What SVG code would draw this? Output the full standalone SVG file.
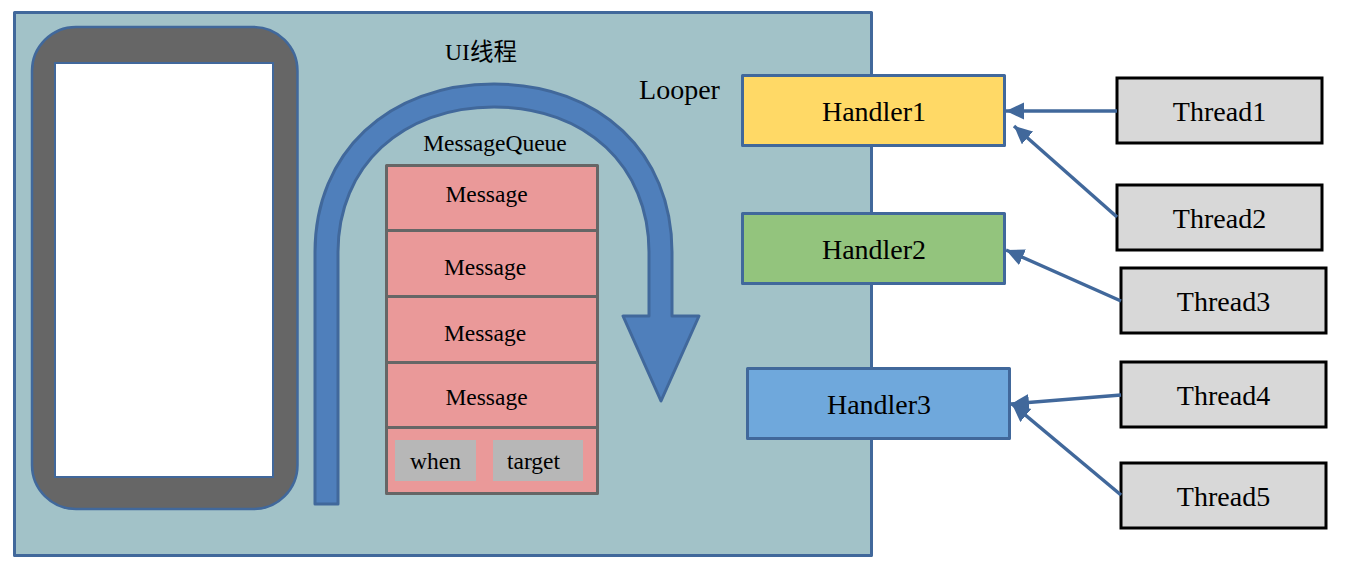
<svg xmlns="http://www.w3.org/2000/svg" width="1346" height="567" viewBox="0 0 1346 567">
<style>
text{font-family:"Liberation Serif","Noto Sans CJK SC",serif;fill:#000;text-anchor:middle}
.b{stroke:#41689b;stroke-width:3;stroke-linejoin:round}
.t{fill:#d8d8d8;stroke:#000;stroke-width:3}
.m{fill:#ea9999;stroke:#666;stroke-width:3;stroke-linejoin:round}
.g{fill:#b7b7b7}
.h{font-size:28px}
.s{font-size:23.500px}
.c{stroke:#41689b;stroke-width:3.500;fill:none;marker-end:url(#a)}
</style>
<defs><marker id="a" markerUnits="userSpaceOnUse" markerWidth="20" markerHeight="18" refX="18" refY="8.500" orient="auto"><path d="M0 0L18 8.500L0 17Z" fill="#41689b"/></marker></defs>
<g id="background"><rect x="14.500" y="12.500" width="857" height="543" fill="#a2c2c8" class="b"/></g>
<g id="phone"><rect x="32" y="27" width="265.500" height="482" rx="44" fill="#666" stroke="#41689b" stroke-width="2.500"/><rect x="55" y="63" width="218" height="414" fill="#fff" stroke="#41689b" stroke-width="2"/></g>
<g id="looper-arrow"><path d="M315 504V252C315 153 388 84 494 84C600 84 672 153 672 252V316H699L661 401L623 316H649V252C649 166 586 107 494 107C402 107 338 166 338 252V504Z" fill="#4f7fbb" stroke="#41689b" stroke-width="3" stroke-linejoin="round"/></g>
<g id="label-ui"><text x="481" y="60" font-size="23.500">UI线程</text></g>
<g id="label-looper"><text x="679.500" y="99" font-size="28">Looper</text></g>
<g id="label-queue"><text x="495" y="151" class="s">MessageQueue</text></g>
<g id="message1"><rect x="386.500" y="165.500" width="211" height="65" class="m"/><text x="486.500" y="202" class="s">Message</text></g>
<g id="message2"><rect x="386.500" y="230.500" width="211" height="66" class="m"/><text x="485" y="275" class="s">Message</text></g>
<g id="message3"><rect x="386.500" y="296.500" width="211" height="66" class="m"/><text x="485" y="341" class="s">Message</text></g>
<g id="message4"><rect x="386.500" y="362.500" width="211" height="65" class="m"/><text x="486.500" y="405" class="s">Message</text></g>
<g id="message-fields"><rect x="386.500" y="427.500" width="211" height="66" class="m"/></g>
<g id="when"><rect x="395" y="440" width="81" height="41" class="g"/><text x="435.500" y="469" class="s">when</text></g>
<g id="target"><rect x="493" y="440" width="90" height="41" class="g"/><text x="533.500" y="469" class="s">target</text></g>
<g id="handler1"><rect x="742.500" y="75.500" width="262" height="70" fill="#ffd966" class="b"/><text x="874" y="121" class="h">Handler1</text></g>
<g id="handler2"><rect x="742.500" y="213.500" width="262" height="70" fill="#93c47d" class="b"/><text x="874" y="259" class="h">Handler2</text></g>
<g id="handler3"><rect x="747.500" y="368.500" width="262" height="70" fill="#6fa8dc" class="b"/><text x="879" y="414" class="h">Handler3</text></g>
<g id="thread1"><rect x="1117" y="78" width="205" height="65" class="t"/><text x="1219.500" y="121" class="h">Thread1</text></g>
<g id="thread2"><rect x="1117" y="185" width="205" height="65" class="t"/><text x="1219.500" y="228" class="h">Thread2</text></g>
<g id="thread3"><rect x="1121" y="268" width="205" height="65" class="t"/><text x="1223.500" y="311" class="h">Thread3</text></g>
<g id="thread4"><rect x="1121" y="362" width="205" height="65" class="t"/><text x="1223.500" y="405" class="h">Thread4</text></g>
<g id="thread5"><rect x="1121" y="463" width="205" height="65" class="t"/><text x="1223.500" y="506" class="h">Thread5</text></g>
<g id="connectors">
<line x1="1117" y1="111" x2="1006" y2="111" class="c"/>
<line x1="1117" y1="217" x2="1014" y2="126" class="c"/>
<line x1="1121" y1="301" x2="1006" y2="250" class="c"/>
<line x1="1121" y1="395" x2="1011" y2="404" class="c"/>
<line x1="1121" y1="495" x2="1012" y2="404" class="c"/>
</g>
</svg>
